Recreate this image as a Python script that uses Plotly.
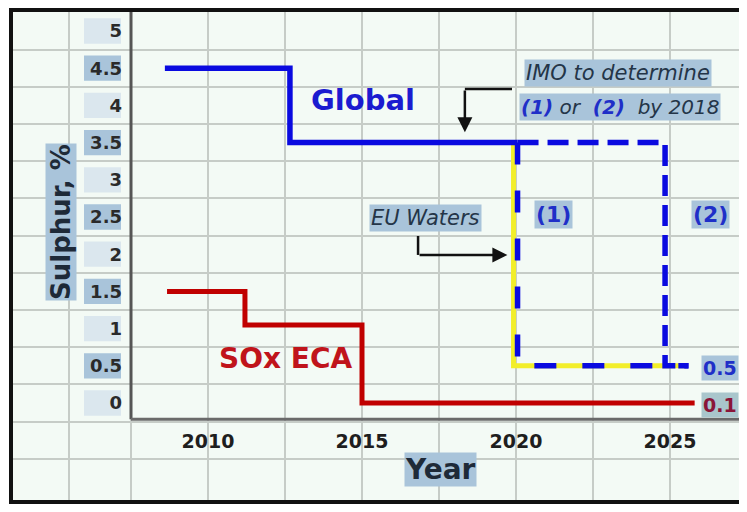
import plotly.graph_objects as go

# ---------------- data ----------------
global_x = [2008.6, 2012.66, 2020.05]
global_y = [4.5, 3.5, 3.5]

eca_x = [2008.67, 2011.2, 2015.0, 2025.8]
eca_y = [1.5, 1.05, 0.0, 0.0]

opt1_x = [2020.05, 2020.05, 2025.6]
opt1_y = [3.5, 0.5, 0.5]

opt2_x = [2020.05, 2024.84, 2025.6]
opt2_y = [3.5, 0.5, 0.5]

eu_x = [2019.92, 2019.92, 2025.5]
eu_y = [3.5, 0.5, 0.5]

x_ticks = [2010, 2015, 2020, 2025]
y_ticks = [0, 0.5, 1, 1.5, 2, 2.5, 3, 3.5, 4, 4.5, 5]
y_tick_text = ["0", "0.5", "1", "1.5", "2", "2.5", "3", "3.5", "4", "4.5", "5"]

# ---------------- layout constants ----------------
OFF = 8                      # page body margin
W, H = 747 - 2 * OFF, 512 - 2 * OFF
PL, PT, PR, PB = 11, 10, 739, 502   # plot area in screen pixels
ML, MT, MR, MB = PL - OFF, PT - OFF, (W + OFF) - PR, (H + OFF) - PB

# pixel calibration of the reference (screen px)
X_REF_PX, X_REF_VAL, X_PPU = 208.0, 2010.0, 30.8
Y_REF_PX, Y_REF_VAL, Y_PPU = 403.0, 0.0, 74.4
X_RANGE = [X_REF_VAL + (PL - X_REF_PX) / X_PPU, X_REF_VAL + (PR - X_REF_PX) / X_PPU]
Y_RANGE = [Y_REF_VAL + (Y_REF_PX - PB) / Y_PPU, Y_REF_VAL + (Y_REF_PX - PT) / Y_PPU]
AXIS_X0 = 2007.5     # where the y axis sits
AXIS_Y0 = -0.22      # where the x axis sits

FONT = "DejaVu Sans"
BLUE = "#0a0ae0"
RED = "#c00000"
YELLOW = "#f2ee2a"
LABEL_BG = "#a9c4da"
TXT_DARK = "#243548"
GRID = "#c6ccc7"


def px(sx):
    return (sx - PL) / (PR - PL)


def py(sy):
    return (PB - sy) / (PB - PT)


xpos = (AXIS_X0 - X_RANGE[0]) / (X_RANGE[1] - X_RANGE[0])
ypos = (AXIS_Y0 - Y_RANGE[0]) / (Y_RANGE[1] - Y_RANGE[0])

fig = go.Figure()

fig.add_trace(go.Scatter(x=eu_x, y=eu_y, mode="lines", line=dict(color=YELLOW, width=5),
                         name="EU Waters", hoverinfo="skip"))
fig.add_trace(go.Scatter(x=global_x, y=global_y, mode="lines", line_shape="hv",
                         line=dict(color=BLUE, width=5.5), name="Global"))
fig.add_trace(go.Scatter(x=opt2_x, y=opt2_y, mode="lines", line_shape="hv",
                         line=dict(color=BLUE, width=5.5, dash="21px,9px"), name="(2)"))
fig.add_trace(go.Scatter(x=opt1_x, y=opt1_y, mode="lines", line_shape="hv",
                         line=dict(color=BLUE, width=5.5, dash="22px,26px"), name="(1)"))
fig.add_trace(go.Scatter(x=eca_x, y=eca_y, mode="lines", line_shape="hv",
                         line=dict(color=RED, width=5), name="SOx ECA"))

shapes = []
# axis lines
shapes.append(dict(type="line", xref="x", yref="y", x0=AXIS_X0, x1=AXIS_X0,
                   y0=AXIS_Y0, y1=Y_RANGE[1], line=dict(color="#555555", width=3)))
shapes.append(dict(type="line", xref="x", yref="y", x0=AXIS_X0, x1=X_RANGE[1],
                   y0=AXIS_Y0, y1=AXIS_Y0, line=dict(color="#6a6a6a", width=3)))
# tick label highlights
for v in y_ticks:
    strong = (v * 2) % 2 == 1
    shapes.append(dict(type="rect", xref="paper", yref="y",
                       x0=px(84), x1=px(121),
                       y0=v - 0.17, y1=v + 0.17, layer="below", line=dict(width=0),
                       fillcolor=LABEL_BG if strong else "#dbe7ee"))
# outer spreadsheet border
shapes.append(dict(type="rect", xref="paper", yref="paper", x0=0, x1=1.02, y0=0, y1=1,
                   line=dict(color="#111111", width=4)))

# elbow arrow line segments
arrow1 = dict(x_start=2019.87, y_level=4.22, x_turn=2018.34, y_tip=3.64)
arrow2 = dict(x_start=2016.82, y_start=2.245, y_level=1.99, x_tip=2019.72)
shapes.append(dict(type="line", xref="x", yref="y", x0=arrow1["x_start"], x1=arrow1["x_turn"],
                   y0=arrow1["y_level"], y1=arrow1["y_level"], line=dict(color="#111111", width=2.5)))
shapes.append(dict(type="line", xref="x", yref="y", x0=arrow2["x_start"], x1=arrow2["x_start"],
                   y0=arrow2["y_start"], y1=arrow2["y_level"], line=dict(color="#111111", width=2.5)))

ann = []
ann.append(dict(x=arrow1["x_turn"], y=arrow1["y_tip"], ax=arrow1["x_turn"], ay=arrow1["y_level"],
                xref="x", yref="y", axref="x", ayref="y", text="", showarrow=True,
                arrowhead=2, arrowsize=1.2, arrowwidth=2.5, arrowcolor="#111111"))
ann.append(dict(x=arrow2["x_tip"], y=arrow2["y_level"], ax=arrow2["x_start"], ay=arrow2["y_level"],
                xref="x", yref="y", axref="x", ayref="y", text="", showarrow=True,
                arrowhead=2, arrowsize=1.2, arrowwidth=2.5, arrowcolor="#111111"))


def label(x, y, text, size, color, bg=None, **kw):
    d = dict(x=x, y=y, xref="x", yref="y", text=text, showarrow=False,
             font=dict(family=FONT, size=size, color=color), borderpad=1)
    if bg:
        d["bgcolor"] = bg
    d.update(kw)
    ann.append(d)


label(2015.03, 4.07, "<b>Global</b>", 29, "#1b1bd0")
label(2012.5, 0.60, "<b>SOx ECA</b>", 28, "#c0141b")
label(2023.31, 4.44, "<i>IMO to determine</i>", 21, TXT_DARK, LABEL_BG)
label(2023.38, 3.98,
      "<i><b><span style='color:#1f2fc8'>(1)</span></b> or  <b><span style='color:#1f2fc8'>(2)</span></b>  by 2018</i>",
      20, TXT_DARK, LABEL_BG)
label(2017.05, 2.49, "<i>EU Waters</i>", 21, TXT_DARK, LABEL_BG)
label(2021.23, 2.53, "<b>(1)</b>", 22, "#1f2fc8", LABEL_BG)
label(2026.30, 2.53, "<b>(2)</b>", 22, "#1f2fc8", LABEL_BG)
ann.append(dict(x=1, y=opt1_y[-1] - 0.03, xref="paper", yref="y", xanchor="right",
                text="<b>0.5</b>", showarrow=False, bgcolor=LABEL_BG, borderpad=1,
                font=dict(family=FONT, size=19, color="#1f2fc8")))
ann.append(dict(x=1, y=eca_y[-1] - 0.03, xref="paper", yref="y", xanchor="right",
                text="<b>0.1</b>", showarrow=False, bgcolor="#a9c6cc", borderpad=1,
                font=dict(family=FONT, size=19, color="#8a1538")))
# axis titles
ann.append(dict(x=px(45), y=py(222), xref="paper", yref="paper",
                text="<b>Sulphur, %</b>", textangle=-90, showarrow=False, bgcolor=LABEL_BG,
                borderpad=0, font=dict(family=FONT, size=26, color="#1e2a38")))
ann.append(dict(x=px(440), y=py(487), xref="paper", yref="paper",
                text="<b>Year</b>", showarrow=False, bgcolor=LABEL_BG, borderpad=0,
                font=dict(family=FONT, size=28, color="#1e2a38")))

fig.update_layout(
    width=W, height=H,
    margin=dict(l=ML, r=MR, t=MT, b=MB, pad=0),
    paper_bgcolor="white",
    plot_bgcolor="#f3faf5",
    showlegend=False,
    shapes=shapes,
    annotations=ann,
    xaxis=dict(range=X_RANGE, anchor="free", position=ypos, tickmode="array",
               tickvals=x_ticks, ticktext=[str(v) for v in x_ticks], ticks="",
               ticklabelstandoff=9, showline=False, zeroline=False,
               showgrid=True, gridcolor=GRID, gridwidth=2,
               tickfont=dict(family=FONT, size=19, color="#1e1e1e", weight="bold"),
               minor=dict(tickmode="array",
                          tickvals=[2005.5, 2007.5, 2012.5, 2017.5, 2022.5, 2027.5],
                          showgrid=True, gridcolor=GRID, gridwidth=2, ticks="")),
    yaxis=dict(range=Y_RANGE, anchor="free", position=xpos, tickmode="array",
               tickvals=y_ticks, ticktext=y_tick_text, ticks="",
               ticklabelstandoff=9, showline=False, zeroline=False, showgrid=False,
               tickfont=dict(family=FONT, size=18, color="#2a2a2a", weight="bold"),
               minor=dict(tickmode="array",
                          tickvals=[-0.75, -0.25, 0.25, 0.75, 1.25, 1.75, 2.25, 2.75,
                                    3.25, 3.75, 4.25, 4.75],
                          showgrid=True, gridcolor=GRID, gridwidth=2, ticks="")),
)

fig.write_html("out.html")
